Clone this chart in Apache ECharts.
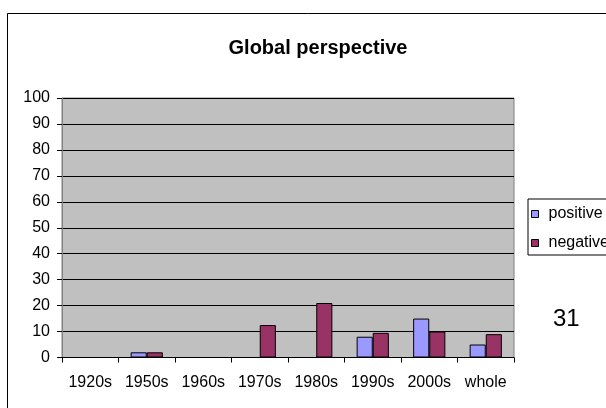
<!DOCTYPE html>
<html><head><meta charset="utf-8">
<script src="https://cdn.jsdelivr.net/npm/echarts@6/dist/echarts.min.js"></script>
<style>html,body{margin:0;padding:0;background:#fff}#c{width:606px;height:408px}</style>
</head><body><div id="c"></div>
<script>
const categories = ['1920s','1950s','1960s','1970s','1980s','1990s','2000s','whole'];
const positive = [0, 2, 0, 0, 0, 8, 15, 5];
const negative = [0, 2, 0, 12.5, 21, 9.5, 10, 9];
const yTicks = [0,10,20,30,40,50,60,70,80,90,100];

const chart = echarts.init(document.getElementById('c'), null, {renderer:'canvas'});
const font = 'Liberation Sans, Arial, sans-serif';
chart.setOption({
  animation: false,
  backgroundColor: '#fff',
  title: {
    text: 'Global perspective', left: 313, top: 33, textAlign: 'center',
    textStyle: {fontFamily: font, fontSize: 20, fontWeight: 'bold', color: '#000'}
  },
  graphic: [{
    type: 'rect', shape: {x: 7.5, y: 13.5, width: 700, height: 500},
    style: {fill: null, stroke: '#000', lineWidth: 1}, silent: true, z: -1
  }, {
    type: 'text', left: 553, top: 307,
    style: {text: '31', font: '24px ' + font, fill: '#000'}
  }],
  legend: {
    orient: 'vertical', left: 528, top: 199,
    borderColor: '#000', borderWidth: 1, padding: [7, 10, 4, 3],
    itemWidth: 7, itemHeight: 7, itemGap: 13,
    icon: 'rect',
    itemStyle: {borderColor: '#000', borderWidth: 1},
    textStyle: {fontFamily: font, fontSize: 16, color: '#000', padding: [0,0,0,5]},
    data: ['positive','negative']
  },
  grid: {
    left: 62, top: 98, right: 92, bottom: 50.5, show: true,
    backgroundColor: '#C0C0C0', borderColor: '#808080', borderWidth: 1
  },
  xAxis: {
    type: 'category', data: categories,
    axisLine: {lineStyle: {color: '#000'}},
    axisTick: {show: true, length: 5, lineStyle: {color: '#000'}},
    axisLabel: {fontFamily: font, fontSize: 16, color: '#000', margin: 17, interval: 0, hideOverlap: false}
  },
  yAxis: {
    type: 'value', min: 0, max: 100, interval: 10,
    axisLine: {show: true, lineStyle: {color: '#808080'}},
    axisTick: {show: true, length: 5, lineStyle: {color: '#000'}},
    axisLabel: {fontFamily: font, fontSize: 16, color: '#000', margin: 12,
      formatter: v => yTicks.includes(v) ? String(v) : ''},
    splitLine: {show: true, lineStyle: {color: '#000', width: 1}}
  },
  series: [{
    name: 'positive', type: 'bar', data: positive,
    barGap: '0%', barCategoryGap: '43%',
    itemStyle: {color: '#9999FF', borderColor: '#000', borderWidth: 1}
  }, {
    name: 'negative', type: 'bar', data: negative,
    itemStyle: {color: '#993366', borderColor: '#000', borderWidth: 1}
  }]
});
</script></body></html>
